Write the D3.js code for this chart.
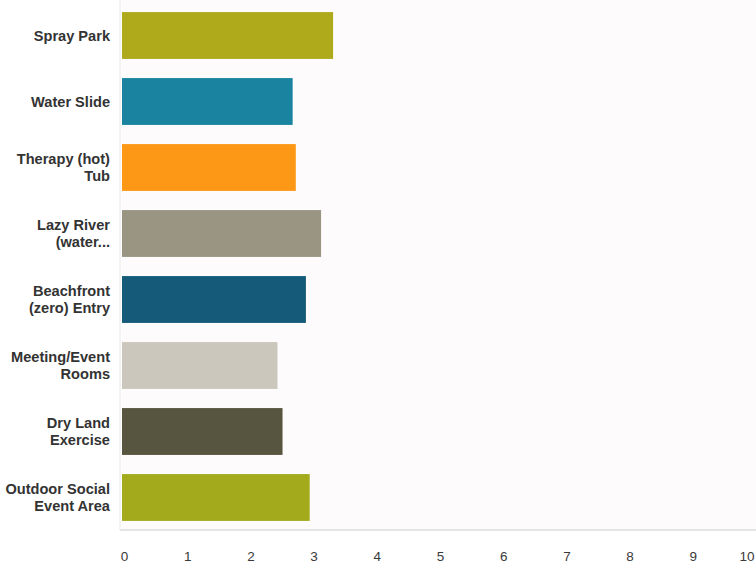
<!DOCTYPE html>
<html><head><meta charset="utf-8">
<script src="https://cdn.jsdelivr.net/npm/d3@7"></script>
<style>html,body{margin:0;padding:0;background:#fff;}svg{display:block;}</style>
</head><body>
<svg id="chart" width="756" height="567"></svg>
<script>
const categories = [
  ["Spray Park"],
  ["Water Slide"],
  ["Therapy (hot)", "Tub"],
  ["Lazy River", "(water..."],
  ["Beachfront", "(zero) Entry"],
  ["Meeting/Event", "Rooms"],
  ["Dry Land", "Exercise"],
  ["Outdoor Social", "Event Area"]
];
const values = [3.34, 2.70, 2.75, 3.15, 2.91, 2.46, 2.54, 2.97];
const colors = ["#aeaa1c", "#1a84a0", "#fd9817", "#9a9583", "#165a79", "#cbc7bc", "#57553f", "#a3ab1d"];
const tickValues = [0,1,2,3,4,5,6,7,8,9,10];

(function(){
const svg = d3.select("#chart");
const pLeft = 122, pRight = 754, pTop = 2.5, pBottom = 530.5;

svg.append("rect").attr("x", pLeft).attr("y", 0).attr("width", 756-pLeft).attr("height", pBottom)
  .attr("fill", "#fdfbfc");

const x = d3.scaleLinear().domain([0, 10]).range([pLeft, pRight]);
const y = d3.scaleBand().domain(d3.range(categories.length)).range([pTop, pBottom])
  .paddingInner(0.29).paddingOuter(0.145);

svg.append("line").attr("x1", pLeft-2).attr("x2", pLeft-2).attr("y1", 0).attr("y2", 530)
  .attr("stroke", "#e6e6e6").attr("stroke-width", 1);
svg.append("line").attr("x1", pLeft-2).attr("x2", 756).attr("y1", 530).attr("y2", 530)
  .attr("stroke", "#dcdcdc").attr("stroke-width", 1.5);

svg.selectAll("rect.bar").data(values).join("rect").attr("class", "bar")
  .attr("x", x(0)).attr("y", (d,i) => y(i))
  .attr("width", d => x(d) - x(0)).attr("height", y.bandwidth())
  .attr("fill", (d,i) => colors[i]);

const lab = svg.append("g").attr("font-family", "Liberation Sans, Arial, sans-serif")
  .attr("font-size", 14.6).attr("font-weight", "bold").attr("fill", "#333").attr("text-anchor", "end");
categories.forEach((lines, i) => {
  const cy = y(i) + y.bandwidth()/2;
  const n = lines.length;
  lines.forEach((t, k) => {
    lab.append("text").attr("x", 110).attr("y", cy + (k - (n-1)/2) * 16.5)
      .attr("dy", "0.35em").text(t);
  });
});

const axis = d3.axisBottom(x).tickValues(tickValues).tickSize(0).tickPadding(0);
const ag = svg.append("g").attr("transform", "translate(2,551)").call(axis);
ag.select(".domain").remove();
ag.selectAll("text").attr("font-family", "Liberation Sans, Arial, sans-serif")
  .attr("font-size", 13.5).attr("fill", "#3a3a3a").attr("dy", "0.71em");
ag.selectAll(".tick").filter(d => d === 10).select("text").attr("text-anchor", "end").attr("x", 752 - x(10));
})();
</script>
</body></html>
